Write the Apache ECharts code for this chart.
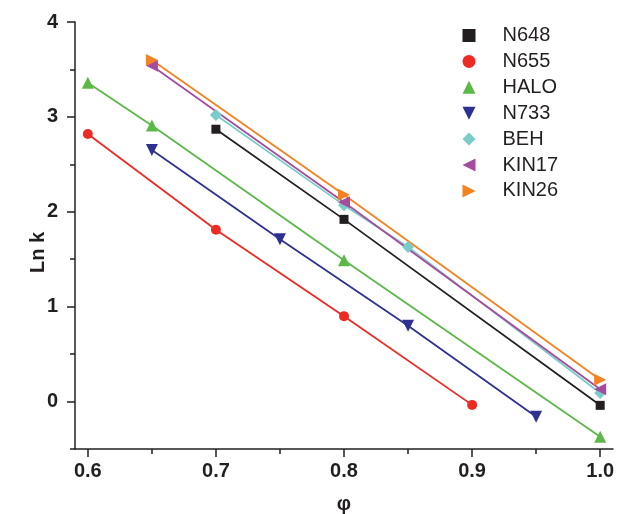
<!DOCTYPE html>
<html>
<head>
<meta charset="utf-8">
<script src="https://cdn.jsdelivr.net/npm/echarts@6/dist/echarts.min.js"></script>
<style>
  html, body { margin: 0; padding: 0; background: #fff; }
  #chart { width: 617px; height: 514px; }
</style>
</head>
<body>
<div id="chart"></div>
<script>
// values: [phi, ln k]
const N648 = [[0.70, 2.87], [0.80, 1.92], [1.00, -0.04]];
const N655 = [[0.60, 2.82], [0.70, 1.81], [0.80, 0.90], [0.90, -0.035]];
const HALO = [[0.60, 3.36], [0.65, 2.91], [0.80, 1.49], [1.00, -0.37]];
const N733 = [[0.65, 2.65], [0.75, 1.71], [0.85, 0.80], [0.95, -0.16]];
const BEH = [[0.70, 3.02], [0.80, 2.07], [0.85, 1.63], [1.00, 0.09]];
const KIN17 = [[0.65, 3.54], [0.80, 2.10], [1.00, 0.13]];
const KIN26 = [[0.65, 3.60], [0.80, 2.18], [1.00, 0.23]];

const xMajor = [0.6, 0.7, 0.8, 0.9, 1.0];
const xMinor = [0.65, 0.75, 0.85, 0.95];
const yMajor = [0, 1, 2, 3, 4];
const yMinor = [-0.5, 0.5, 1.5, 2.5, 3.5];

// legend icons need the triangles turned, so they get paths
const triDown = 'path://M0,0L10,0L5,10Z';
const triLeft = 'path://M10,0L10,10L0,5Z';
const triRight = 'path://M0,0L10,5L0,10Z';

const groups = [
  { name: 'N648', data: N648, color: '#231f20', symbol: 'rect', size: 9, rotate: 0, icon: 'rect' },
  { name: 'N655', data: N655, color: '#ee2a24', symbol: 'circle', size: 10, rotate: 0, icon: 'circle' },
  { name: 'HALO', data: HALO, color: '#5cb848', symbol: 'triangle', size: 12, rotate: 0, icon: 'triangle' },
  { name: 'N733', data: N733, color: '#2e3192', symbol: 'triangle', size: 12, rotate: 180, icon: triDown },
  { name: 'BEH', data: BEH, color: '#7accc8', symbol: 'diamond', size: 12, rotate: 0, icon: 'diamond' },
  { name: 'KIN17', data: KIN17, color: '#a54c9f', symbol: 'triangle', size: 12, rotate: 90, icon: triLeft },
  { name: 'KIN26', data: KIN26, color: '#f58220', symbol: 'triangle', size: 12, rotate: -90, icon: triRight }
];

const ink = '#231f20';
const font = 'Arial, "Liberation Sans", sans-serif';

const series = [];
groups.forEach(g => {
  series.push({
    type: 'line',
    name: g.name + ' line',
    data: g.data,
    showSymbol: false,
    lineStyle: { color: g.color, width: 1.8 },
    silent: true,
    z: 2
  });
  series.push({
    type: 'scatter',
    name: g.name,
    data: g.data,
    symbol: g.symbol,
    symbolSize: g.size,
    symbolRotate: g.rotate,
    itemStyle: { color: g.color, opacity: 1 },
    z: 3
  });
});

const chart = echarts.init(document.getElementById('chart'));
chart.setOption({
  animation: false,
  backgroundColor: '#fff',
  grid: { left: 75, right: 4, top: 22, bottom: 65, containLabel: false, outerBoundsMode: 'none' },
  legend: {
    orient: 'vertical',
    left: 457.5,
    top: 20.5,
    padding: 5,
    itemWidth: 13,
    itemHeight: 13,
    itemGap: 5.9,
    data: groups.map(g => ({ name: g.name, icon: g.icon })),
    textStyle: { fontSize: 20, color: ink, fontFamily: font, padding: [0, 0, 0, 22] }
  },
  xAxis: [{
    type: 'value',
    min: 0.59,
    max: 1.01,
    name: 'φ',
    nameLocation: 'middle',
    nameGap: 45,
    nameMoveOverlap: false,
    nameTextStyle: { fontSize: 20, fontWeight: 'bold', color: ink, fontFamily: font },
    axisLine: { show: true, onZero: false, lineStyle: { color: ink, width: 1.5 } },
    axisTick: { show: true, inside: false, length: 8, customValues: xMajor, lineStyle: { color: ink, width: 1.5 } },
    axisLabel: { customValues: xMajor, margin: 12, fontSize: 20, fontWeight: 'bold', color: ink, fontFamily: font,
      formatter: v => v.toFixed(1) },
    splitLine: { show: false }
  }, {
    type: 'value',
    min: 0.59,
    max: 1.01,
    position: 'bottom',
    axisLine: { show: false, onZero: false },
    axisTick: { show: true, inside: false, length: 5, customValues: xMinor, lineStyle: { color: ink, width: 1.5 } },
    axisLabel: { show: false },
    splitLine: { show: false }
  }],
  yAxis: [{
    type: 'value',
    min: -0.5,
    max: 4,
    name: 'Ln k',
    nameLocation: 'middle',
    nameGap: 27,
    nameMoveOverlap: false,
    nameTextStyle: { fontSize: 20, fontWeight: 'bold', color: ink, fontFamily: font, padding: [0, 34, 0, 0] },
    axisLine: { show: true, onZero: false, lineStyle: { color: ink, width: 1.5 } },
    axisTick: { show: true, inside: false, length: 8, customValues: yMajor, lineStyle: { color: ink, width: 1.5 } },
    axisLabel: { customValues: yMajor, margin: 17, fontSize: 20, fontWeight: 'bold', color: ink, fontFamily: font },
    splitLine: { show: false }
  }, {
    type: 'value',
    min: -0.5,
    max: 4,
    position: 'left',
    axisLine: { show: false, onZero: false },
    axisTick: { show: true, inside: false, length: 5, customValues: yMinor, lineStyle: { color: ink, width: 1.5 } },
    axisLabel: { show: false },
    splitLine: { show: false }
  }],
  series: series
});
</script>
</body>
</html>
